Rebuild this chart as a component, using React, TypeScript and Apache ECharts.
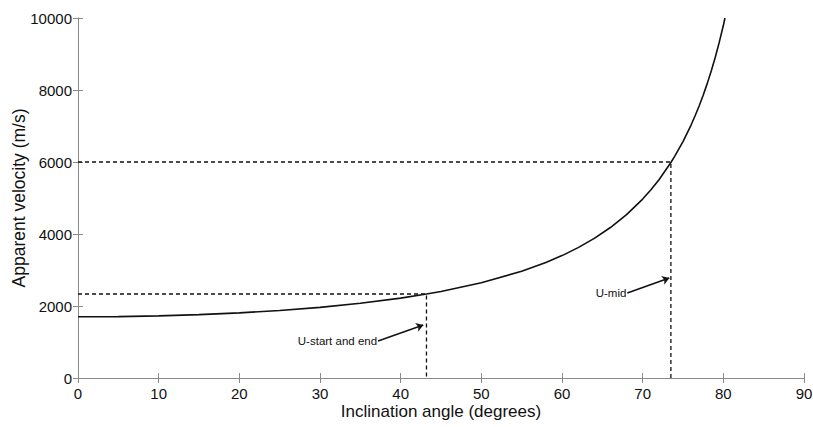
import React, { useEffect, useRef } from "react";
import * as echarts from "echarts";

const curveAngles = [0, 5, 10, 15, 20, 25, 30, 35, 40, 43.2, 45, 50, 55, 58, 60, 62, 64, 66, 68, 70, 71, 72, 73.5, 74, 75, 76, 76.5, 77, 77.5, 78, 78.5, 79, 79.5, 80, 80.2];
const curveVelocities = [1700, 1706, 1726, 1760, 1809, 1876, 1963, 2075, 2219, 2333, 2404, 2645, 2964, 3208, 3400, 3621, 3878, 4180, 4538, 4970, 5221, 5501, 5986, 6168, 6568, 7027, 7284, 7557, 7855, 8177, 8526, 8910, 9330, 9790, 10000];

const uStartAngle = 43.2;
const uStartVelocity = 2333;
const uMidAngle = 73.5;
const uMidVelocity = 6000;

const labels = ["U-start and end", "U-mid"];
const arrowStarts = [[37.2, 1030], [68.1, 2360]];
const arrowEnds = [[42.8, 1470], [73.3, 2780]];

const FONT = "Liberation Sans";

export default function App() {
  const ref = useRef<HTMLDivElement>(null);
  useEffect(() => {
    const chart = echarts.init(ref.current!, null, { renderer: "svg" });
    const axisLine = { show: true, lineStyle: { color: "#8a8a8a", width: 1 } };
    const tick = { show: true, inside: true, length: 5, lineStyle: { color: "#8a8a8a" } };
    chart.setOption({
      animation: false,
      backgroundColor: "#fff",
      grid: { left: 78, right: 9, top: 18, bottom: 49, containLabel: false, outerBoundsMode: "none" },
      xAxis: [
        {
          type: "value", min: 0, max: 90, interval: 10,
          axisLine, axisTick: tick, splitLine: { show: false },
          axisLabel: { color: "#111", fontSize: 15, fontFamily: FONT, margin: 8, formatter: (v: number) => String(v) },
          name: "Inclination angle (degrees)", nameLocation: "middle", nameGap: 25, nameMoveOverlap: false,
          nameTextStyle: { color: "#111", fontSize: 17, fontFamily: FONT },
        },
        {
          type: "value", min: 0, max: 90, interval: 10, position: "top",
          axisLine, axisTick: tick, splitLine: { show: false }, axisLabel: { show: false },
        },
      ],
      yAxis: [
        {
          type: "value", min: 0, max: 10000, interval: 2000,
          axisLine, axisTick: tick, splitLine: { show: false },
          axisLabel: { color: "#111", fontSize: 15, fontFamily: FONT, margin: 6, formatter: (v: number) => String(v) },
          name: "Apparent velocity (m/s)", nameLocation: "middle", nameGap: 50, nameMoveOverlap: false,
          nameTextStyle: { color: "#111", fontSize: 17.5, fontFamily: FONT },
        },
        {
          type: "value", min: 0, max: 10000, interval: 2000, position: "right",
          axisLine, axisTick: tick, splitLine: { show: false }, axisLabel: { show: false },
        },
      ],
      series: [
        {
          type: "line", showSymbol: false, smooth: false,
          data: curveAngles.map((a, i) => [a, curveVelocities[i]]),
          lineStyle: { color: "#111", width: 1.6 },
        },
        {
          type: "line", showSymbol: false,
          data: [[0, uStartVelocity], [uStartAngle, uStartVelocity], [uStartAngle, 0]],
          lineStyle: { color: "#111", width: 1.3, type: [4, 3] },
        },
        {
          type: "line", showSymbol: false,
          data: [[0, uMidVelocity], [uMidAngle, uMidVelocity], [uMidAngle, 0]],
          lineStyle: { color: "#111", width: 1.3, type: [4, 3] },
          markLine: {
            silent: true,
            lineStyle: { color: "#111", width: 1.5, type: "solid" },
            label: { show: false },
            symbolSize: 7,
            data: arrowStarts.map((s, i) => [
              { coord: s, symbol: "none" },
              { coord: arrowEnds[i], symbol: "arrow" },
            ]),
          },
          markPoint: {
            symbol: "circle", symbolSize: 0,
            data: arrowStarts.map((s, i) => ({
              coord: s,
              label: {
                show: true, formatter: labels[i], position: "left", distance: 1,
                color: "#111", fontSize: 11.5, fontFamily: FONT,
              },
            })),
          },
        },
      ],
    });
    return () => chart.dispose();
  }, []);
  return <div ref={ref} style={{ width: 813, height: 427, position: "absolute", left: 0, top: 0 }} />;
}
